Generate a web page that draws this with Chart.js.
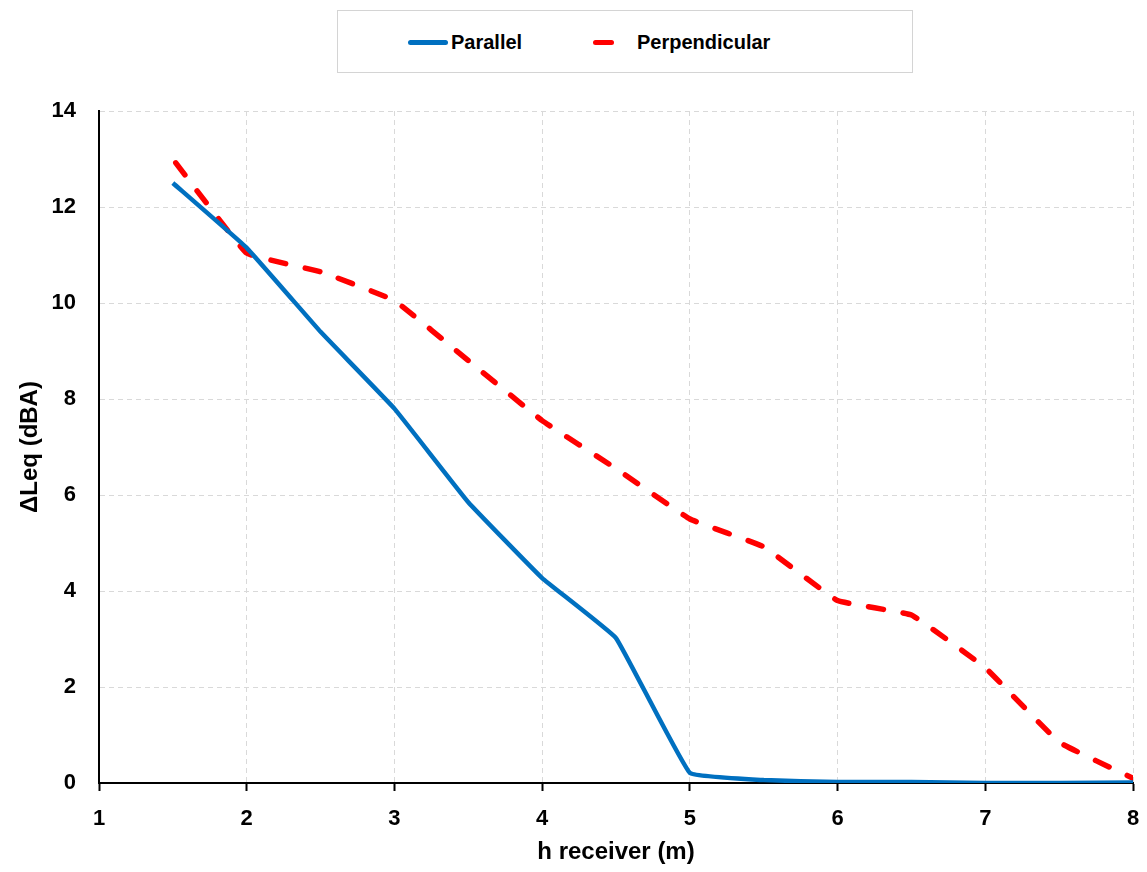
<!DOCTYPE html>
<html>
<head>
<meta charset="utf-8">
<script src="https://cdn.jsdelivr.net/npm/chart.js@4"></script>
<style>
    html, body { margin: 0; padding: 0; background: #fff; }
    #wrap { position: relative; width: 1147px; height: 872px; }
    #chart { position: absolute; left: 0; top: 0; }
    #legend {
        position: absolute; left: 337px; top: 10px; width: 574px; height: 61px;
        border: 1px solid #d4d4d4; background: #fff;
        font-family: 'Liberation Sans', Arial, sans-serif; font-weight: bold; font-size: 20px; color: #000;
    }
    #legend .swatch { position: absolute; height: 5px; border-radius: 3px; }
    #legend .label { position: absolute; line-height: 24px; }
</style>
</head>
<body>
<div id="wrap">
    <canvas id="chart" width="1147" height="872"></canvas>
    <div id="legend"></div>
</div>
<script>
// بيانات المخطط
const hReceiver = [1.5, 2, 2.5, 3, 3.5, 4, 4.5, 5, 5.5, 6, 6.5, 7, 7.5, 8];
const parallelValues = [12.5, 11.15, 9.4, 7.8, 5.85, 4.27, 3.02, 0.21, 0.06, 0.02, 0.02, 0.0, 0.0, 0.01];
const perpendicularValues = [13.0, 11.04, 10.65, 10.05, 8.8, 7.55, 6.55, 5.5, 4.92, 3.8, 3.5, 2.4, 0.85, 0.1];
const xTicks = [1, 2, 3, 4, 5, 6, 7, 8];
const yTicks = [0, 2, 4, 6, 8, 10, 12, 14];
const seriesNames = ['Parallel', 'Perpendicular'];
const seriesColors = ['#0070c0', '#ff0000'];

const FONT = "'Liberation Sans', Arial, sans-serif";

function toPoints(values) {
    return hReceiver.map((x, i) => ({ x: x, y: values[i] }));
}

// وسيلة الإيضاح
const legendEl = document.getElementById('legend');
const legendItems = [
    { swatchLeft: 70, swatchWidth: 40, labelLeft: 113 },
    { swatchLeft: 255, swatchWidth: 21, labelLeft: 299 }
];
seriesNames.forEach((name, i) => {
    const sw = document.createElement('div');
    sw.className = 'swatch';
    sw.style.left = legendItems[i].swatchLeft + 'px';
    sw.style.width = legendItems[i].swatchWidth + 'px';
    sw.style.top = '29px';
    sw.style.background = seriesColors[i];
    legendEl.appendChild(sw);
    const lb = document.createElement('span');
    lb.className = 'label';
    lb.style.left = legendItems[i].labelLeft + 'px';
    lb.style.top = '19px';
    lb.textContent = name;
    legendEl.appendChild(lb);
});

const ctx = document.getElementById('chart').getContext('2d');
new Chart(ctx, {
    type: 'line',
    data: {
        datasets: [
            {
                label: seriesNames[0],
                data: toPoints(parallelValues),
                borderColor: seriesColors[0],
                backgroundColor: seriesColors[0],
                borderWidth: 4.5,
                pointRadius: 0,
                tension: 0.08,
                borderJoinStyle: 'round'
            },
            {
                label: seriesNames[1],
                data: toPoints(perpendicularValues),
                borderColor: seriesColors[1],
                backgroundColor: seriesColors[1],
                borderWidth: 5.5,
                borderDash: [15, 20],
                borderDashOffset: 30,
                borderCapStyle: 'round',
                pointRadius: 0,
                tension: 0.08
            }
        ]
    },
    options: {
        responsive: false,
        animation: false,
        layout: { padding: { left: 12, top: 111, right: 14, bottom: 1 } },
        plugins: { legend: { display: false }, tooltip: { enabled: false } },
        scales: {
            x: {
                type: 'linear',
                min: 1,
                max: 8,
                afterBuildTicks: (scale) => { scale.ticks = xTicks.map(v => ({ value: v })); },
                afterFit: (scale) => {
                    scale.height = 88;
                    scale.paddingLeft = 0;
                    scale.paddingRight = 0;
                },
                ticks: {
                    color: '#000',
                    padding: 15,
                    maxRotation: 0,
                    font: { family: FONT, size: 22, weight: 'bold' }
                },
                grid: {
                    color: '#d9d9d9',
                    lineWidth: 1,
                    drawTicks: true,
                    tickLength: 8,
                    tickColor: '#000',
                    tickWidth: 2
                },
                border: { display: true, color: '#000', width: 2, dash: [5, 4] },
                title: {
                    display: true,
                    text: 'h receiver (m)',
                    color: '#000',
                    font: { family: FONT, size: 24, weight: 'bold' }
                }
            },
            y: {
                type: 'linear',
                min: 0,
                max: 14,
                afterBuildTicks: (scale) => { scale.ticks = yTicks.map(v => ({ value: v })); },
                afterFit: (scale) => {
                    scale.width = 87;
                    scale.paddingTop = 0;
                    scale.paddingBottom = 0;
                },
                ticks: {
                    color: '#000',
                    padding: 23,
                    font: { family: FONT, size: 22, weight: 'bold' }
                },
                grid: {
                    color: '#d9d9d9',
                    lineWidth: 1,
                    drawTicks: false
                },
                border: { display: true, color: '#000', width: 2, dash: [5, 4] },
                title: {
                    display: true,
                    text: 'ΔLeq (dBA)',
                    color: '#000',
                    font: { family: FONT, size: 24, weight: 'bold' }
                }
            }
        }
    }
});
</script>
</body>
</html>
